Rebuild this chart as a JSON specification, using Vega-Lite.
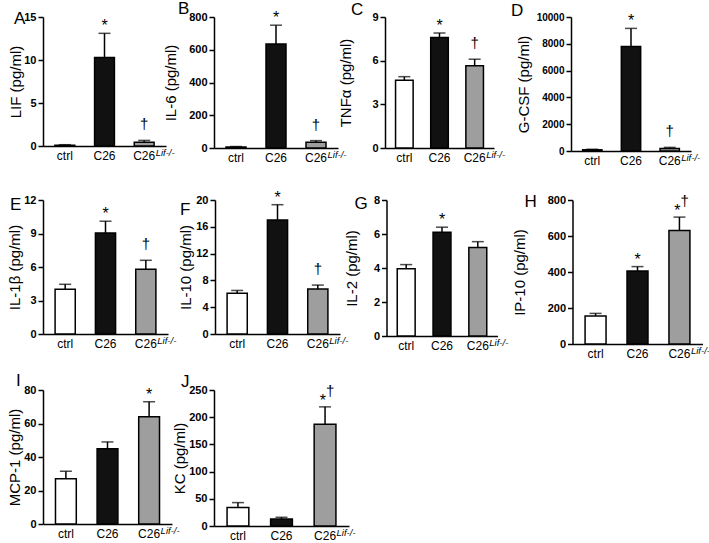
{
  "$schema": "https://vega.github.io/schema/vega-lite/v6.json",
  "padding": {"left": 7, "top": 0, "right": 0, "bottom": 0},
  "background": "white",
  "config": {
    "view": {"stroke": null},
    "font": "Liberation Sans",
    "axis": {"domainColor": "black", "domainWidth": 1.5, "tickColor": "black", "tickWidth": 1.5, "labelColor": "black", "titleColor": "black", "grid": false},
    "axisX": {"ticks": false, "tickSize": 0, "labelFontSize": 12, "labelPadding": 4, "labelAngle": 0},
    "axisY": {"tickSize": 5, "labelFontSize": 11, "labelFontWeight": "bold", "labelPadding": 2, "labelFlush": false, "labelOverlap": false, "titleFontSize": 15, "titleFontWeight": "normal", "titlePadding": 0},
    "text": {"color": "black"},
    "title": {"anchor": "start", "frame": "group", "align": "left", "baseline": "alphabetic", "fontSize": 17, "fontWeight": "normal", "offset": 0, "color": "black"}
  },
  "datasets": {
    "d": [
      {"panel": "A", "group": "ctrl", "mean": 0.1, "hi": 0.15, "star": "", "dag": ""},
      {"panel": "A", "group": "C26", "mean": 10.3, "hi": 13.1, "star": "*", "dag": ""},
      {"panel": "A", "group": "C26Lif-/-", "mean": 0.45, "hi": 0.65, "star": "", "dag": "†"},
      {"panel": "B", "group": "ctrl", "mean": 6, "hi": 9, "star": "", "dag": ""},
      {"panel": "B", "group": "C26", "mean": 635, "hi": 750, "star": "*", "dag": ""},
      {"panel": "B", "group": "C26Lif-/-", "mean": 35, "hi": 45, "star": "", "dag": "†"},
      {"panel": "C", "group": "ctrl", "mean": 4.65, "hi": 4.9, "star": "", "dag": ""},
      {"panel": "C", "group": "C26", "mean": 7.6, "hi": 7.9, "star": "*", "dag": ""},
      {"panel": "C", "group": "C26Lif-/-", "mean": 5.65, "hi": 6.1, "star": "", "dag": "†"},
      {"panel": "D", "group": "ctrl", "mean": 90, "hi": 130, "star": "", "dag": ""},
      {"panel": "D", "group": "C26", "mean": 7800, "hi": 9150, "star": "*", "dag": ""},
      {"panel": "D", "group": "C26Lif-/-", "mean": 180, "hi": 270, "star": "", "dag": "†"},
      {"panel": "E", "group": "ctrl", "mean": 4.0, "hi": 4.45, "star": "", "dag": ""},
      {"panel": "E", "group": "C26", "mean": 9.05, "hi": 10.1, "star": "*", "dag": ""},
      {"panel": "E", "group": "C26Lif-/-", "mean": 5.8, "hi": 6.6, "star": "", "dag": "†"},
      {"panel": "F", "group": "ctrl", "mean": 6.1, "hi": 6.5, "star": "", "dag": ""},
      {"panel": "F", "group": "C26", "mean": 17.0, "hi": 19.3, "star": "*", "dag": ""},
      {"panel": "F", "group": "C26Lif-/-", "mean": 6.7, "hi": 7.3, "star": "", "dag": "†"},
      {"panel": "G", "group": "ctrl", "mean": 3.95, "hi": 4.2, "star": "", "dag": ""},
      {"panel": "G", "group": "C26", "mean": 6.1, "hi": 6.4, "star": "*", "dag": ""},
      {"panel": "G", "group": "C26Lif-/-", "mean": 5.2, "hi": 5.55, "star": "", "dag": ""},
      {"panel": "H", "group": "ctrl", "mean": 155, "hi": 170, "star": "", "dag": ""},
      {"panel": "H", "group": "C26", "mean": 405, "hi": 430, "star": "*", "dag": ""},
      {"panel": "H", "group": "C26Lif-/-", "mean": 630, "hi": 705, "star": "*", "dag": "†"},
      {"panel": "I", "group": "ctrl", "mean": 27, "hi": 31.5, "star": "", "dag": ""},
      {"panel": "I", "group": "C26", "mean": 45, "hi": 49, "star": "", "dag": ""},
      {"panel": "I", "group": "C26Lif-/-", "mean": 64, "hi": 73, "star": "*", "dag": ""},
      {"panel": "J", "group": "ctrl", "mean": 34, "hi": 43, "star": "", "dag": ""},
      {"panel": "J", "group": "C26", "mean": 13, "hi": 16, "star": "", "dag": ""},
      {"panel": "J", "group": "C26Lif-/-", "mean": 187, "hi": 219, "star": "*", "dag": "†"}
    ]
  },
  "spacing": 12,
  "vconcat": [
    {
      "spacing": 23,
      "vconcat": [
        {
          "spacing": -9,
          "hconcat": [
            {
              "bounds": "flush", "spacing": 48,
              "hconcat": [
                {
                  "width": 123, "height": 129,
                  "title": {"text": "A", "dx": -29, "dy": 21},
                  "data": {"name": "d"},
                  "transform": [{"filter": "datum.panel == 'A'"}],
                  "encoding": {"x": {"field": "group", "type": "nominal", "sort": ["ctrl", "C26", "C26Lif-/-"], "title": null, "scale": {"paddingInner": 0.5, "paddingOuter": 0.3}, "axis": {"labelExpr": "datum.value == 'C26Lif-/-' ? 'C26' : datum.value"}}},
                  "layer": [
                    {"mark": {"type": "rule", "color": "black", "strokeWidth": 1.5}, "encoding": {"y": {"field": "mean", "type": "quantitative", "scale": {"domain": [0, 15], "nice": false}, "axis": {"values": [0, 5, 10, 15], "title": "LIF (pg/ml)", "minExtent": 20}}, "y2": {"field": "hi"}}},
                    {"mark": {"type": "bar", "stroke": "black", "strokeWidth": 1.5}, "encoding": {"y": {"field": "mean", "type": "quantitative", "axis": {"values": [0, 5, 10, 15], "title": "LIF (pg/ml)", "minExtent": 20}}, "fill": {"field": "group", "type": "nominal", "scale": {"domain": ["ctrl", "C26", "C26Lif-/-"], "range": ["#ffffff", "#111111", "#9e9e9e"]}, "legend": null}}},
                    {"mark": {"type": "tick", "color": "black", "thickness": 1.5, "size": 12}, "encoding": {"y": {"field": "hi", "type": "quantitative", "axis": {"values": [0, 5, 10, 15], "title": "LIF (pg/ml)", "minExtent": 20}}}},
                    {"transform": [{"filter": "datum.star != '' && datum.dag == ''"}], "mark": {"type": "text", "color": "black", "baseline": "alphabetic", "dy": -2, "fontSize": 16}, "encoding": {"y": {"field": "hi", "type": "quantitative", "axis": {"values": [0, 5, 10, 15], "title": "LIF (pg/ml)", "minExtent": 20}}, "text": {"field": "star"}}},
                    {"transform": [{"filter": "datum.star != '' && datum.dag != ''"}], "mark": {"type": "text", "color": "black", "baseline": "alphabetic", "align": "right", "dx": 1, "dy": -1, "fontSize": 16}, "encoding": {"y": {"field": "hi", "type": "quantitative", "axis": {"values": [0, 5, 10, 15], "title": "LIF (pg/ml)", "minExtent": 20}}, "text": {"field": "star"}}},
                    {"transform": [{"filter": "datum.dag != '' && datum.star == ''"}], "mark": {"type": "text", "color": "black", "baseline": "alphabetic", "dy": -11, "fontSize": 15}, "encoding": {"y": {"field": "hi", "type": "quantitative", "axis": {"values": [0, 5, 10, 15], "title": "LIF (pg/ml)", "minExtent": 20}}, "text": {"field": "dag"}}},
                    {"transform": [{"filter": "datum.dag != '' && datum.star != ''"}], "mark": {"type": "text", "color": "black", "baseline": "alphabetic", "align": "left", "dx": 1, "dy": -11, "fontSize": 15}, "encoding": {"y": {"field": "hi", "type": "quantitative", "axis": {"values": [0, 5, 10, 15], "title": "LIF (pg/ml)", "minExtent": 20}}, "text": {"field": "dag"}}},
                    {"transform": [{"filter": "datum.group == 'C26Lif-/-'"}], "mark": {"type": "text", "color": "black", "align": "left", "baseline": "top", "dx": 11.5, "dy": 1.5, "fontSize": 9.5, "fontStyle": "italic"}, "encoding": {"y": {"datum": 0, "type": "quantitative", "axis": {"values": [0, 5, 10, 15], "title": "LIF (pg/ml)", "minExtent": 20}}, "text": {"value": "Lif-/-"}}}
                  ]
                },
                {
                  "width": 124, "height": 131,
                  "title": {"text": "B", "dx": -36, "dy": 12.3},
                  "data": {"name": "d"},
                  "transform": [{"filter": "datum.panel == 'B'"}],
                  "encoding": {"x": {"field": "group", "type": "nominal", "sort": ["ctrl", "C26", "C26Lif-/-"], "title": null, "scale": {"paddingInner": 0.5, "paddingOuter": 0.3}, "axis": {"labelExpr": "datum.value == 'C26Lif-/-' ? 'C26' : datum.value"}}},
                  "layer": [
                    {"mark": {"type": "rule", "color": "black", "strokeWidth": 1.5}, "encoding": {"y": {"field": "mean", "type": "quantitative", "scale": {"domain": [0, 800], "nice": false}, "axis": {"values": [0, 200, 400, 600, 800], "title": "IL-6 (pg/ml)", "minExtent": 36}}, "y2": {"field": "hi"}}},
                    {"mark": {"type": "bar", "stroke": "black", "strokeWidth": 1.5}, "encoding": {"y": {"field": "mean", "type": "quantitative", "axis": {"values": [0, 200, 400, 600, 800], "title": "IL-6 (pg/ml)", "minExtent": 36}}, "fill": {"field": "group", "type": "nominal", "scale": {"domain": ["ctrl", "C26", "C26Lif-/-"], "range": ["#ffffff", "#111111", "#9e9e9e"]}, "legend": null}}},
                    {"mark": {"type": "tick", "color": "black", "thickness": 1.5, "size": 12}, "encoding": {"y": {"field": "hi", "type": "quantitative", "axis": {"values": [0, 200, 400, 600, 800], "title": "IL-6 (pg/ml)", "minExtent": 36}}}},
                    {"transform": [{"filter": "datum.star != '' && datum.dag == ''"}], "mark": {"type": "text", "color": "black", "baseline": "alphabetic", "dy": -2, "fontSize": 16}, "encoding": {"y": {"field": "hi", "type": "quantitative", "axis": {"values": [0, 200, 400, 600, 800], "title": "IL-6 (pg/ml)", "minExtent": 36}}, "text": {"field": "star"}}},
                    {"transform": [{"filter": "datum.star != '' && datum.dag != ''"}], "mark": {"type": "text", "color": "black", "baseline": "alphabetic", "align": "right", "dx": 1, "dy": -1, "fontSize": 16}, "encoding": {"y": {"field": "hi", "type": "quantitative", "axis": {"values": [0, 200, 400, 600, 800], "title": "IL-6 (pg/ml)", "minExtent": 36}}, "text": {"field": "star"}}},
                    {"transform": [{"filter": "datum.dag != '' && datum.star == ''"}], "mark": {"type": "text", "color": "black", "baseline": "alphabetic", "dy": -11, "fontSize": 15}, "encoding": {"y": {"field": "hi", "type": "quantitative", "axis": {"values": [0, 200, 400, 600, 800], "title": "IL-6 (pg/ml)", "minExtent": 36}}, "text": {"field": "dag"}}},
                    {"transform": [{"filter": "datum.dag != '' && datum.star != ''"}], "mark": {"type": "text", "color": "black", "baseline": "alphabetic", "align": "left", "dx": 1, "dy": -11, "fontSize": 15}, "encoding": {"y": {"field": "hi", "type": "quantitative", "axis": {"values": [0, 200, 400, 600, 800], "title": "IL-6 (pg/ml)", "minExtent": 36}}, "text": {"field": "dag"}}},
                    {"transform": [{"filter": "datum.group == 'C26Lif-/-'"}], "mark": {"type": "text", "color": "black", "align": "left", "baseline": "top", "dx": 11.5, "dy": 1.5, "fontSize": 9.5, "fontStyle": "italic"}, "encoding": {"y": {"datum": 0, "type": "quantitative", "axis": {"values": [0, 200, 400, 600, 800], "title": "IL-6 (pg/ml)", "minExtent": 36}}, "text": {"value": "Lif-/-"}}}
                  ]
                }
              ]
            },
            {
              "bounds": "flush", "spacing": 77,
              "hconcat": [
                {
                  "width": 109, "height": 131,
                  "title": {"text": "C", "dx": -34, "dy": 11.5},
                  "data": {"name": "d"},
                  "transform": [{"filter": "datum.panel == 'C'"}],
                  "encoding": {"x": {"field": "group", "type": "nominal", "sort": ["ctrl", "C26", "C26Lif-/-"], "title": null, "scale": {"paddingInner": 0.5, "paddingOuter": 0.3}, "axis": {"labelExpr": "datum.value == 'C26Lif-/-' ? 'C26' : datum.value"}}},
                  "layer": [
                    {"mark": {"type": "rule", "color": "black", "strokeWidth": 1.5}, "encoding": {"y": {"field": "mean", "type": "quantitative", "scale": {"domain": [0, 9], "nice": false}, "axis": {"values": [0, 3, 6, 9], "title": "TNFα (pg/ml)", "minExtent": 32}}, "y2": {"field": "hi"}}},
                    {"mark": {"type": "bar", "stroke": "black", "strokeWidth": 1.5}, "encoding": {"y": {"field": "mean", "type": "quantitative", "axis": {"values": [0, 3, 6, 9], "title": "TNFα (pg/ml)", "minExtent": 32}}, "fill": {"field": "group", "type": "nominal", "scale": {"domain": ["ctrl", "C26", "C26Lif-/-"], "range": ["#ffffff", "#111111", "#9e9e9e"]}, "legend": null}}},
                    {"mark": {"type": "tick", "color": "black", "thickness": 1.5, "size": 12}, "encoding": {"y": {"field": "hi", "type": "quantitative", "axis": {"values": [0, 3, 6, 9], "title": "TNFα (pg/ml)", "minExtent": 32}}}},
                    {"transform": [{"filter": "datum.star != '' && datum.dag == ''"}], "mark": {"type": "text", "color": "black", "baseline": "alphabetic", "dy": -2, "fontSize": 16}, "encoding": {"y": {"field": "hi", "type": "quantitative", "axis": {"values": [0, 3, 6, 9], "title": "TNFα (pg/ml)", "minExtent": 32}}, "text": {"field": "star"}}},
                    {"transform": [{"filter": "datum.star != '' && datum.dag != ''"}], "mark": {"type": "text", "color": "black", "baseline": "alphabetic", "align": "right", "dx": 1, "dy": -1, "fontSize": 16}, "encoding": {"y": {"field": "hi", "type": "quantitative", "axis": {"values": [0, 3, 6, 9], "title": "TNFα (pg/ml)", "minExtent": 32}}, "text": {"field": "star"}}},
                    {"transform": [{"filter": "datum.dag != '' && datum.star == ''"}], "mark": {"type": "text", "color": "black", "baseline": "alphabetic", "dy": -11, "fontSize": 15}, "encoding": {"y": {"field": "hi", "type": "quantitative", "axis": {"values": [0, 3, 6, 9], "title": "TNFα (pg/ml)", "minExtent": 32}}, "text": {"field": "dag"}}},
                    {"transform": [{"filter": "datum.dag != '' && datum.star != ''"}], "mark": {"type": "text", "color": "black", "baseline": "alphabetic", "align": "left", "dx": 1, "dy": -11, "fontSize": 15}, "encoding": {"y": {"field": "hi", "type": "quantitative", "axis": {"values": [0, 3, 6, 9], "title": "TNFα (pg/ml)", "minExtent": 32}}, "text": {"field": "dag"}}},
                    {"transform": [{"filter": "datum.group == 'C26Lif-/-'"}], "mark": {"type": "text", "color": "black", "align": "left", "baseline": "top", "dx": 11.5, "dy": 1.5, "fontSize": 9.5, "fontStyle": "italic"}, "encoding": {"y": {"datum": 0, "type": "quantitative", "axis": {"values": [0, 3, 6, 9], "title": "TNFα (pg/ml)", "minExtent": 32}}, "text": {"value": "Lif-/-"}}}
                  ]
                },
                {
                  "width": 120, "height": 134,
                  "title": {"text": "D", "dx": -60, "dy": 12},
                  "data": {"name": "d"},
                  "transform": [{"filter": "datum.panel == 'D'"}],
                  "encoding": {"x": {"field": "group", "type": "nominal", "sort": ["ctrl", "C26", "C26Lif-/-"], "title": null, "scale": {"paddingInner": 0.5, "paddingOuter": 0.3}, "axis": {"labelExpr": "datum.value == 'C26Lif-/-' ? 'C26' : datum.value"}}},
                  "layer": [
                    {"mark": {"type": "rule", "color": "black", "strokeWidth": 1.5}, "encoding": {"y": {"field": "mean", "type": "quantitative", "scale": {"domain": [0, 10000], "nice": false}, "axis": {"values": [0, 2000, 4000, 6000, 8000, 10000], "format": "d", "labelFontSize": 10, "title": "G-CSF (pg/ml)", "minExtent": 40}}, "y2": {"field": "hi"}}},
                    {"mark": {"type": "bar", "stroke": "black", "strokeWidth": 1.5}, "encoding": {"y": {"field": "mean", "type": "quantitative", "axis": {"values": [0, 2000, 4000, 6000, 8000, 10000], "format": "d", "labelFontSize": 10, "title": "G-CSF (pg/ml)", "minExtent": 40}}, "fill": {"field": "group", "type": "nominal", "scale": {"domain": ["ctrl", "C26", "C26Lif-/-"], "range": ["#ffffff", "#111111", "#9e9e9e"]}, "legend": null}}},
                    {"mark": {"type": "tick", "color": "black", "thickness": 1.5, "size": 12}, "encoding": {"y": {"field": "hi", "type": "quantitative", "axis": {"values": [0, 2000, 4000, 6000, 8000, 10000], "format": "d", "labelFontSize": 10, "title": "G-CSF (pg/ml)", "minExtent": 40}}}},
                    {"transform": [{"filter": "datum.star != '' && datum.dag == ''"}], "mark": {"type": "text", "color": "black", "baseline": "alphabetic", "dy": -2, "fontSize": 16}, "encoding": {"y": {"field": "hi", "type": "quantitative", "axis": {"values": [0, 2000, 4000, 6000, 8000, 10000], "format": "d", "labelFontSize": 10, "title": "G-CSF (pg/ml)", "minExtent": 40}}, "text": {"field": "star"}}},
                    {"transform": [{"filter": "datum.star != '' && datum.dag != ''"}], "mark": {"type": "text", "color": "black", "baseline": "alphabetic", "align": "right", "dx": 1, "dy": -1, "fontSize": 16}, "encoding": {"y": {"field": "hi", "type": "quantitative", "axis": {"values": [0, 2000, 4000, 6000, 8000, 10000], "format": "d", "labelFontSize": 10, "title": "G-CSF (pg/ml)", "minExtent": 40}}, "text": {"field": "star"}}},
                    {"transform": [{"filter": "datum.dag != '' && datum.star == ''"}], "mark": {"type": "text", "color": "black", "baseline": "alphabetic", "dy": -11, "fontSize": 15}, "encoding": {"y": {"field": "hi", "type": "quantitative", "axis": {"values": [0, 2000, 4000, 6000, 8000, 10000], "format": "d", "labelFontSize": 10, "title": "G-CSF (pg/ml)", "minExtent": 40}}, "text": {"field": "dag"}}},
                    {"transform": [{"filter": "datum.dag != '' && datum.star != ''"}], "mark": {"type": "text", "color": "black", "baseline": "alphabetic", "align": "left", "dx": 1, "dy": -11, "fontSize": 15}, "encoding": {"y": {"field": "hi", "type": "quantitative", "axis": {"values": [0, 2000, 4000, 6000, 8000, 10000], "format": "d", "labelFontSize": 10, "title": "G-CSF (pg/ml)", "minExtent": 40}}, "text": {"field": "dag"}}},
                    {"transform": [{"filter": "datum.group == 'C26Lif-/-'"}], "mark": {"type": "text", "color": "black", "align": "left", "baseline": "top", "dx": 11.5, "dy": 1.5, "fontSize": 9.5, "fontStyle": "italic"}, "encoding": {"y": {"datum": 0, "type": "quantitative", "axis": {"values": [0, 2000, 4000, 6000, 8000, 10000], "format": "d", "labelFontSize": 10, "title": "G-CSF (pg/ml)", "minExtent": 40}}, "text": {"value": "Lif-/-"}}}
                  ]
                }
              ]
            }
          ]
        },
        {
          "spacing": -4.5,
          "hconcat": [
            {
              "bounds": "flush", "spacing": 47,
              "hconcat": [
                {
                  "width": 125, "height": 134,
                  "title": {"text": "E", "dx": -33, "dy": 24},
                  "data": {"name": "d"},
                  "transform": [{"filter": "datum.panel == 'E'"}],
                  "encoding": {"x": {"field": "group", "type": "nominal", "sort": ["ctrl", "C26", "C26Lif-/-"], "title": null, "scale": {"paddingInner": 0.5, "paddingOuter": 0.3}, "axis": {"labelExpr": "datum.value == 'C26Lif-/-' ? 'C26' : datum.value"}}},
                  "layer": [
                    {"mark": {"type": "rule", "color": "black", "strokeWidth": 1.5}, "encoding": {"y": {"field": "mean", "type": "quantitative", "scale": {"domain": [0, 12], "nice": false}, "axis": {"values": [0, 3, 6, 9, 12], "title": "IL-1β (pg/ml)", "minExtent": 21}}, "y2": {"field": "hi"}}},
                    {"mark": {"type": "bar", "stroke": "black", "strokeWidth": 1.5}, "encoding": {"y": {"field": "mean", "type": "quantitative", "axis": {"values": [0, 3, 6, 9, 12], "title": "IL-1β (pg/ml)", "minExtent": 21}}, "fill": {"field": "group", "type": "nominal", "scale": {"domain": ["ctrl", "C26", "C26Lif-/-"], "range": ["#ffffff", "#111111", "#9e9e9e"]}, "legend": null}}},
                    {"mark": {"type": "tick", "color": "black", "thickness": 1.5, "size": 12}, "encoding": {"y": {"field": "hi", "type": "quantitative", "axis": {"values": [0, 3, 6, 9, 12], "title": "IL-1β (pg/ml)", "minExtent": 21}}}},
                    {"transform": [{"filter": "datum.star != '' && datum.dag == ''"}], "mark": {"type": "text", "color": "black", "baseline": "alphabetic", "dy": -2, "fontSize": 16}, "encoding": {"y": {"field": "hi", "type": "quantitative", "axis": {"values": [0, 3, 6, 9, 12], "title": "IL-1β (pg/ml)", "minExtent": 21}}, "text": {"field": "star"}}},
                    {"transform": [{"filter": "datum.star != '' && datum.dag != ''"}], "mark": {"type": "text", "color": "black", "baseline": "alphabetic", "align": "right", "dx": 1, "dy": -1, "fontSize": 16}, "encoding": {"y": {"field": "hi", "type": "quantitative", "axis": {"values": [0, 3, 6, 9, 12], "title": "IL-1β (pg/ml)", "minExtent": 21}}, "text": {"field": "star"}}},
                    {"transform": [{"filter": "datum.dag != '' && datum.star == ''"}], "mark": {"type": "text", "color": "black", "baseline": "alphabetic", "dy": -11, "fontSize": 15}, "encoding": {"y": {"field": "hi", "type": "quantitative", "axis": {"values": [0, 3, 6, 9, 12], "title": "IL-1β (pg/ml)", "minExtent": 21}}, "text": {"field": "dag"}}},
                    {"transform": [{"filter": "datum.dag != '' && datum.star != ''"}], "mark": {"type": "text", "color": "black", "baseline": "alphabetic", "align": "left", "dx": 1, "dy": -11, "fontSize": 15}, "encoding": {"y": {"field": "hi", "type": "quantitative", "axis": {"values": [0, 3, 6, 9, 12], "title": "IL-1β (pg/ml)", "minExtent": 21}}, "text": {"field": "dag"}}},
                    {"transform": [{"filter": "datum.group == 'C26Lif-/-'"}], "mark": {"type": "text", "color": "black", "align": "left", "baseline": "top", "dx": 11.5, "dy": 1.5, "fontSize": 9.5, "fontStyle": "italic"}, "encoding": {"y": {"datum": 0, "type": "quantitative", "axis": {"values": [0, 3, 6, 9, 12], "title": "IL-1β (pg/ml)", "minExtent": 21}}, "text": {"value": "Lif-/-"}}}
                  ]
                },
                {
                  "width": 125, "height": 134,
                  "title": {"text": "F", "dx": -35, "dy": 33.8},
                  "data": {"name": "d"},
                  "transform": [{"filter": "datum.panel == 'F'"}],
                  "encoding": {"x": {"field": "group", "type": "nominal", "sort": ["ctrl", "C26", "C26Lif-/-"], "title": null, "scale": {"paddingInner": 0.5, "paddingOuter": 0.3}, "axis": {"labelExpr": "datum.value == 'C26Lif-/-' ? 'C26' : datum.value"}}},
                  "layer": [
                    {"mark": {"type": "rule", "color": "black", "strokeWidth": 1.5}, "encoding": {"y": {"field": "mean", "type": "quantitative", "scale": {"domain": [0, 20], "nice": false}, "axis": {"values": [0, 4, 8, 12, 16, 20], "title": "IL-10 (pg/ml)", "minExtent": 22}}, "y2": {"field": "hi"}}},
                    {"mark": {"type": "bar", "stroke": "black", "strokeWidth": 1.5}, "encoding": {"y": {"field": "mean", "type": "quantitative", "axis": {"values": [0, 4, 8, 12, 16, 20], "title": "IL-10 (pg/ml)", "minExtent": 22}}, "fill": {"field": "group", "type": "nominal", "scale": {"domain": ["ctrl", "C26", "C26Lif-/-"], "range": ["#ffffff", "#111111", "#9e9e9e"]}, "legend": null}}},
                    {"mark": {"type": "tick", "color": "black", "thickness": 1.5, "size": 12}, "encoding": {"y": {"field": "hi", "type": "quantitative", "axis": {"values": [0, 4, 8, 12, 16, 20], "title": "IL-10 (pg/ml)", "minExtent": 22}}}},
                    {"transform": [{"filter": "datum.star != '' && datum.dag == ''"}], "mark": {"type": "text", "color": "black", "baseline": "alphabetic", "dy": -2, "fontSize": 16}, "encoding": {"y": {"field": "hi", "type": "quantitative", "axis": {"values": [0, 4, 8, 12, 16, 20], "title": "IL-10 (pg/ml)", "minExtent": 22}}, "text": {"field": "star"}}},
                    {"transform": [{"filter": "datum.star != '' && datum.dag != ''"}], "mark": {"type": "text", "color": "black", "baseline": "alphabetic", "align": "right", "dx": 1, "dy": -1, "fontSize": 16}, "encoding": {"y": {"field": "hi", "type": "quantitative", "axis": {"values": [0, 4, 8, 12, 16, 20], "title": "IL-10 (pg/ml)", "minExtent": 22}}, "text": {"field": "star"}}},
                    {"transform": [{"filter": "datum.dag != '' && datum.star == ''"}], "mark": {"type": "text", "color": "black", "baseline": "alphabetic", "dy": -11, "fontSize": 15}, "encoding": {"y": {"field": "hi", "type": "quantitative", "axis": {"values": [0, 4, 8, 12, 16, 20], "title": "IL-10 (pg/ml)", "minExtent": 22}}, "text": {"field": "dag"}}},
                    {"transform": [{"filter": "datum.dag != '' && datum.star != ''"}], "mark": {"type": "text", "color": "black", "baseline": "alphabetic", "align": "left", "dx": 1, "dy": -11, "fontSize": 15}, "encoding": {"y": {"field": "hi", "type": "quantitative", "axis": {"values": [0, 4, 8, 12, 16, 20], "title": "IL-10 (pg/ml)", "minExtent": 22}}, "text": {"field": "dag"}}},
                    {"transform": [{"filter": "datum.group == 'C26Lif-/-'"}], "mark": {"type": "text", "color": "black", "align": "left", "baseline": "top", "dx": 11.5, "dy": 1.5, "fontSize": 9.5, "fontStyle": "italic"}, "encoding": {"y": {"datum": 0, "type": "quantitative", "axis": {"values": [0, 4, 8, 12, 16, 20], "title": "IL-10 (pg/ml)", "minExtent": 22}}, "text": {"value": "Lif-/-"}}}
                  ]
                }
              ]
            },
            {
              "bounds": "flush", "spacing": 75,
              "hconcat": [
                {
                  "width": 111, "height": 136,
                  "title": {"text": "G", "dx": -32, "dy": 23},
                  "data": {"name": "d"},
                  "transform": [{"filter": "datum.panel == 'G'"}],
                  "encoding": {"x": {"field": "group", "type": "nominal", "sort": ["ctrl", "C26", "C26Lif-/-"], "title": null, "scale": {"paddingInner": 0.5, "paddingOuter": 0.3}, "axis": {"labelExpr": "datum.value == 'C26Lif-/-' ? 'C26' : datum.value"}}},
                  "layer": [
                    {"mark": {"type": "rule", "color": "black", "strokeWidth": 1.5}, "encoding": {"y": {"field": "mean", "type": "quantitative", "scale": {"domain": [0, 8], "nice": false}, "axis": {"values": [0, 2, 4, 6, 8], "title": "IL-2 (pg/ml)", "minExtent": 27}}, "y2": {"field": "hi"}}},
                    {"mark": {"type": "bar", "stroke": "black", "strokeWidth": 1.5}, "encoding": {"y": {"field": "mean", "type": "quantitative", "axis": {"values": [0, 2, 4, 6, 8], "title": "IL-2 (pg/ml)", "minExtent": 27}}, "fill": {"field": "group", "type": "nominal", "scale": {"domain": ["ctrl", "C26", "C26Lif-/-"], "range": ["#ffffff", "#111111", "#9e9e9e"]}, "legend": null}}},
                    {"mark": {"type": "tick", "color": "black", "thickness": 1.5, "size": 12}, "encoding": {"y": {"field": "hi", "type": "quantitative", "axis": {"values": [0, 2, 4, 6, 8], "title": "IL-2 (pg/ml)", "minExtent": 27}}}},
                    {"transform": [{"filter": "datum.star != '' && datum.dag == ''"}], "mark": {"type": "text", "color": "black", "baseline": "alphabetic", "dy": -2, "fontSize": 16}, "encoding": {"y": {"field": "hi", "type": "quantitative", "axis": {"values": [0, 2, 4, 6, 8], "title": "IL-2 (pg/ml)", "minExtent": 27}}, "text": {"field": "star"}}},
                    {"transform": [{"filter": "datum.star != '' && datum.dag != ''"}], "mark": {"type": "text", "color": "black", "baseline": "alphabetic", "align": "right", "dx": 1, "dy": -1, "fontSize": 16}, "encoding": {"y": {"field": "hi", "type": "quantitative", "axis": {"values": [0, 2, 4, 6, 8], "title": "IL-2 (pg/ml)", "minExtent": 27}}, "text": {"field": "star"}}},
                    {"transform": [{"filter": "datum.dag != '' && datum.star == ''"}], "mark": {"type": "text", "color": "black", "baseline": "alphabetic", "dy": -11, "fontSize": 15}, "encoding": {"y": {"field": "hi", "type": "quantitative", "axis": {"values": [0, 2, 4, 6, 8], "title": "IL-2 (pg/ml)", "minExtent": 27}}, "text": {"field": "dag"}}},
                    {"transform": [{"filter": "datum.dag != '' && datum.star != ''"}], "mark": {"type": "text", "color": "black", "baseline": "alphabetic", "align": "left", "dx": 1, "dy": -11, "fontSize": 15}, "encoding": {"y": {"field": "hi", "type": "quantitative", "axis": {"values": [0, 2, 4, 6, 8], "title": "IL-2 (pg/ml)", "minExtent": 27}}, "text": {"field": "dag"}}},
                    {"transform": [{"filter": "datum.group == 'C26Lif-/-'"}], "mark": {"type": "text", "color": "black", "align": "left", "baseline": "top", "dx": 11.5, "dy": 1.5, "fontSize": 9.5, "fontStyle": "italic"}, "encoding": {"y": {"datum": 0, "type": "quantitative", "axis": {"values": [0, 2, 4, 6, 8], "title": "IL-2 (pg/ml)", "minExtent": 27}}, "text": {"value": "Lif-/-"}}}
                  ]
                },
                {
                  "width": 130, "height": 144,
                  "title": {"text": "H", "dx": -48, "dy": 20.5},
                  "data": {"name": "d"},
                  "transform": [{"filter": "datum.panel == 'H'"}],
                  "encoding": {"x": {"field": "group", "type": "nominal", "sort": ["ctrl", "C26", "C26Lif-/-"], "title": null, "scale": {"paddingInner": 0.5, "paddingOuter": 0.3}, "axis": {"labelExpr": "datum.value == 'C26Lif-/-' ? 'C26' : datum.value"}}},
                  "layer": [
                    {"mark": {"type": "rule", "color": "black", "strokeWidth": 1.5}, "encoding": {"y": {"field": "mean", "type": "quantitative", "scale": {"domain": [0, 800], "nice": false}, "axis": {"values": [0, 200, 400, 600, 800], "title": "IP-10 (pg/ml)", "minExtent": 45}}, "y2": {"field": "hi"}}},
                    {"mark": {"type": "bar", "stroke": "black", "strokeWidth": 1.5}, "encoding": {"y": {"field": "mean", "type": "quantitative", "axis": {"values": [0, 200, 400, 600, 800], "title": "IP-10 (pg/ml)", "minExtent": 45}}, "fill": {"field": "group", "type": "nominal", "scale": {"domain": ["ctrl", "C26", "C26Lif-/-"], "range": ["#ffffff", "#111111", "#9e9e9e"]}, "legend": null}}},
                    {"mark": {"type": "tick", "color": "black", "thickness": 1.5, "size": 12}, "encoding": {"y": {"field": "hi", "type": "quantitative", "axis": {"values": [0, 200, 400, 600, 800], "title": "IP-10 (pg/ml)", "minExtent": 45}}}},
                    {"transform": [{"filter": "datum.star != '' && datum.dag == ''"}], "mark": {"type": "text", "color": "black", "baseline": "alphabetic", "dy": -2, "fontSize": 16}, "encoding": {"y": {"field": "hi", "type": "quantitative", "axis": {"values": [0, 200, 400, 600, 800], "title": "IP-10 (pg/ml)", "minExtent": 45}}, "text": {"field": "star"}}},
                    {"transform": [{"filter": "datum.star != '' && datum.dag != ''"}], "mark": {"type": "text", "color": "black", "baseline": "alphabetic", "align": "right", "dx": 1, "dy": -1, "fontSize": 16}, "encoding": {"y": {"field": "hi", "type": "quantitative", "axis": {"values": [0, 200, 400, 600, 800], "title": "IP-10 (pg/ml)", "minExtent": 45}}, "text": {"field": "star"}}},
                    {"transform": [{"filter": "datum.dag != '' && datum.star == ''"}], "mark": {"type": "text", "color": "black", "baseline": "alphabetic", "dy": -11, "fontSize": 15}, "encoding": {"y": {"field": "hi", "type": "quantitative", "axis": {"values": [0, 200, 400, 600, 800], "title": "IP-10 (pg/ml)", "minExtent": 45}}, "text": {"field": "dag"}}},
                    {"transform": [{"filter": "datum.dag != '' && datum.star != ''"}], "mark": {"type": "text", "color": "black", "baseline": "alphabetic", "align": "left", "dx": 1, "dy": -11, "fontSize": 15}, "encoding": {"y": {"field": "hi", "type": "quantitative", "axis": {"values": [0, 200, 400, 600, 800], "title": "IP-10 (pg/ml)", "minExtent": 45}}, "text": {"field": "dag"}}},
                    {"transform": [{"filter": "datum.group == 'C26Lif-/-'"}], "mark": {"type": "text", "color": "black", "align": "left", "baseline": "top", "dx": 11.5, "dy": 1.5, "fontSize": 9.5, "fontStyle": "italic"}, "encoding": {"y": {"datum": 0, "type": "quantitative", "axis": {"values": [0, 200, 400, 600, 800], "title": "IP-10 (pg/ml)", "minExtent": 45}}, "text": {"value": "Lif-/-"}}}
                  ]
                }
              ]
            }
          ]
        }
      ]
    },
    {
      "bounds": "flush", "spacing": 42,
      "hconcat": [
        {
          "width": 129, "height": 134,
          "title": {"text": "I", "dx": -27, "dy": 9.5},
          "data": {"name": "d"},
          "transform": [{"filter": "datum.panel == 'I'"}],
          "encoding": {"x": {"field": "group", "type": "nominal", "sort": ["ctrl", "C26", "C26Lif-/-"], "title": null, "scale": {"paddingInner": 0.5, "paddingOuter": 0.3}, "axis": {"labelExpr": "datum.value == 'C26Lif-/-' ? 'C26' : datum.value"}}},
          "layer": [
            {"mark": {"type": "rule", "color": "black", "strokeWidth": 1.5}, "encoding": {"y": {"field": "mean", "type": "quantitative", "scale": {"domain": [0, 80], "nice": false}, "axis": {"values": [0, 20, 40, 60, 80], "title": "MCP-1 (pg/ml)", "minExtent": 21}}, "y2": {"field": "hi"}}},
            {"mark": {"type": "bar", "stroke": "black", "strokeWidth": 1.5}, "encoding": {"y": {"field": "mean", "type": "quantitative", "axis": {"values": [0, 20, 40, 60, 80], "title": "MCP-1 (pg/ml)", "minExtent": 21}}, "fill": {"field": "group", "type": "nominal", "scale": {"domain": ["ctrl", "C26", "C26Lif-/-"], "range": ["#ffffff", "#111111", "#9e9e9e"]}, "legend": null}}},
            {"mark": {"type": "tick", "color": "black", "thickness": 1.5, "size": 12}, "encoding": {"y": {"field": "hi", "type": "quantitative", "axis": {"values": [0, 20, 40, 60, 80], "title": "MCP-1 (pg/ml)", "minExtent": 21}}}},
            {"transform": [{"filter": "datum.star != '' && datum.dag == ''"}], "mark": {"type": "text", "color": "black", "baseline": "alphabetic", "dy": -2, "fontSize": 16}, "encoding": {"y": {"field": "hi", "type": "quantitative", "axis": {"values": [0, 20, 40, 60, 80], "title": "MCP-1 (pg/ml)", "minExtent": 21}}, "text": {"field": "star"}}},
            {"transform": [{"filter": "datum.star != '' && datum.dag != ''"}], "mark": {"type": "text", "color": "black", "baseline": "alphabetic", "align": "right", "dx": 1, "dy": -1, "fontSize": 16}, "encoding": {"y": {"field": "hi", "type": "quantitative", "axis": {"values": [0, 20, 40, 60, 80], "title": "MCP-1 (pg/ml)", "minExtent": 21}}, "text": {"field": "star"}}},
            {"transform": [{"filter": "datum.dag != '' && datum.star == ''"}], "mark": {"type": "text", "color": "black", "baseline": "alphabetic", "dy": -11, "fontSize": 15}, "encoding": {"y": {"field": "hi", "type": "quantitative", "axis": {"values": [0, 20, 40, 60, 80], "title": "MCP-1 (pg/ml)", "minExtent": 21}}, "text": {"field": "dag"}}},
            {"transform": [{"filter": "datum.dag != '' && datum.star != ''"}], "mark": {"type": "text", "color": "black", "baseline": "alphabetic", "align": "left", "dx": 1, "dy": -11, "fontSize": 15}, "encoding": {"y": {"field": "hi", "type": "quantitative", "axis": {"values": [0, 20, 40, 60, 80], "title": "MCP-1 (pg/ml)", "minExtent": 21}}, "text": {"field": "dag"}}},
            {"transform": [{"filter": "datum.group == 'C26Lif-/-'"}], "mark": {"type": "text", "color": "black", "align": "left", "baseline": "top", "dx": 11.5, "dy": 1.5, "fontSize": 9.5, "fontStyle": "italic"}, "encoding": {"y": {"datum": 0, "type": "quantitative", "axis": {"values": [0, 20, 40, 60, 80], "title": "MCP-1 (pg/ml)", "minExtent": 21}}, "text": {"value": "Lif-/-"}}}
          ]
        },
        {
          "width": 135, "height": 136,
          "title": {"text": "J", "dx": -33, "dy": 11},
          "data": {"name": "d"},
          "transform": [{"filter": "datum.panel == 'J'"}],
          "encoding": {"x": {"field": "group", "type": "nominal", "sort": ["ctrl", "C26", "C26Lif-/-"], "title": null, "scale": {"paddingInner": 0.5, "paddingOuter": 0.3}, "axis": {"labelExpr": "datum.value == 'C26Lif-/-' ? 'C26' : datum.value"}}},
          "layer": [
            {"mark": {"type": "rule", "color": "black", "strokeWidth": 1.5}, "encoding": {"y": {"field": "mean", "type": "quantitative", "scale": {"domain": [0, 250], "nice": false}, "axis": {"values": [0, 50, 100, 150, 200, 250], "title": "KC (pg/ml)", "minExtent": 27}}, "y2": {"field": "hi"}}},
            {"mark": {"type": "bar", "stroke": "black", "strokeWidth": 1.5}, "encoding": {"y": {"field": "mean", "type": "quantitative", "axis": {"values": [0, 50, 100, 150, 200, 250], "title": "KC (pg/ml)", "minExtent": 27}}, "fill": {"field": "group", "type": "nominal", "scale": {"domain": ["ctrl", "C26", "C26Lif-/-"], "range": ["#ffffff", "#111111", "#9e9e9e"]}, "legend": null}}},
            {"mark": {"type": "tick", "color": "black", "thickness": 1.5, "size": 12}, "encoding": {"y": {"field": "hi", "type": "quantitative", "axis": {"values": [0, 50, 100, 150, 200, 250], "title": "KC (pg/ml)", "minExtent": 27}}}},
            {"transform": [{"filter": "datum.star != '' && datum.dag == ''"}], "mark": {"type": "text", "color": "black", "baseline": "alphabetic", "dy": -2, "fontSize": 16}, "encoding": {"y": {"field": "hi", "type": "quantitative", "axis": {"values": [0, 50, 100, 150, 200, 250], "title": "KC (pg/ml)", "minExtent": 27}}, "text": {"field": "star"}}},
            {"transform": [{"filter": "datum.star != '' && datum.dag != ''"}], "mark": {"type": "text", "color": "black", "baseline": "alphabetic", "align": "right", "dx": 1, "dy": -1, "fontSize": 16}, "encoding": {"y": {"field": "hi", "type": "quantitative", "axis": {"values": [0, 50, 100, 150, 200, 250], "title": "KC (pg/ml)", "minExtent": 27}}, "text": {"field": "star"}}},
            {"transform": [{"filter": "datum.dag != '' && datum.star == ''"}], "mark": {"type": "text", "color": "black", "baseline": "alphabetic", "dy": -11, "fontSize": 15}, "encoding": {"y": {"field": "hi", "type": "quantitative", "axis": {"values": [0, 50, 100, 150, 200, 250], "title": "KC (pg/ml)", "minExtent": 27}}, "text": {"field": "dag"}}},
            {"transform": [{"filter": "datum.dag != '' && datum.star != ''"}], "mark": {"type": "text", "color": "black", "baseline": "alphabetic", "align": "left", "dx": 1, "dy": -11, "fontSize": 15}, "encoding": {"y": {"field": "hi", "type": "quantitative", "axis": {"values": [0, 50, 100, 150, 200, 250], "title": "KC (pg/ml)", "minExtent": 27}}, "text": {"field": "dag"}}},
            {"transform": [{"filter": "datum.group == 'C26Lif-/-'"}], "mark": {"type": "text", "color": "black", "align": "left", "baseline": "top", "dx": 11.5, "dy": 1.5, "fontSize": 9.5, "fontStyle": "italic"}, "encoding": {"y": {"datum": 0, "type": "quantitative", "axis": {"values": [0, 50, 100, 150, 200, 250], "title": "KC (pg/ml)", "minExtent": 27}}, "text": {"value": "Lif-/-"}}}
          ]
        }
      ]
    }
  ]
}
